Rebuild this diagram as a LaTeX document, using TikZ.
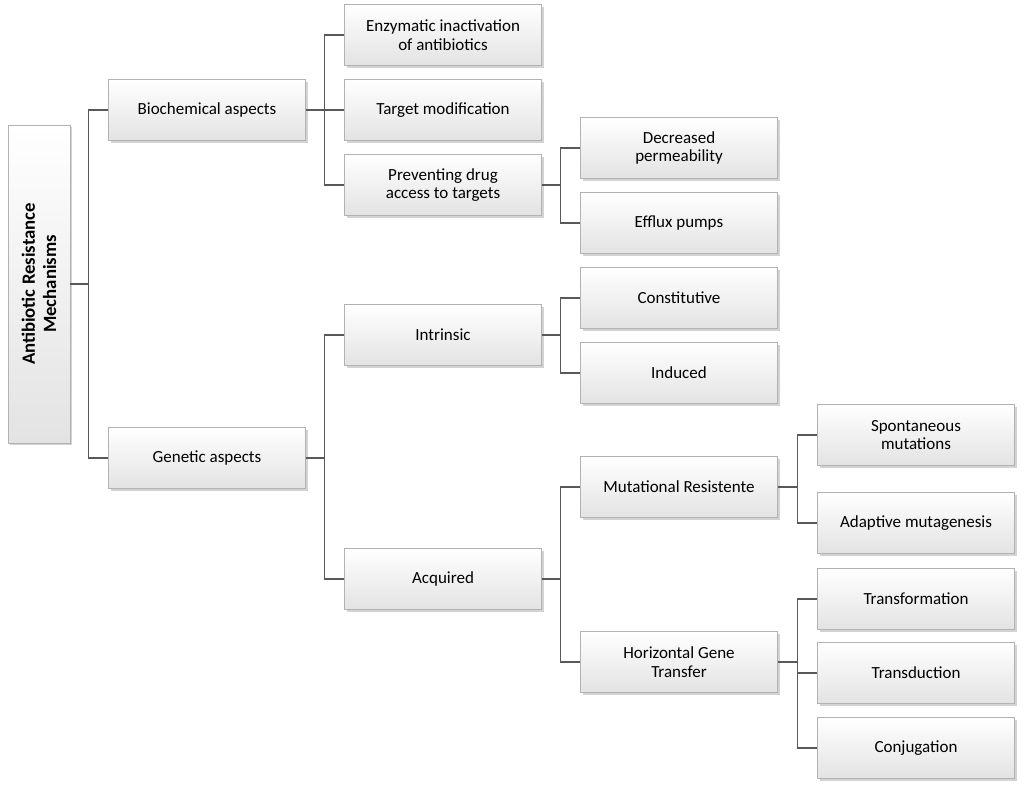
\documentclass[tikz,border=0pt]{standalone}
\usepackage{fontspec}
\setmainfont{Carlito}
\usetikzlibrary{shadows}

\tikzset{
  box/.style={draw=gray!60, line width=0.4pt, top color=white, bottom color=gray!22,
    drop shadow={shadow xshift=2pt, shadow yshift=-2pt, opacity=0.35},
    minimum width=197*0.03cm, minimum height=61*0.03cm, inner sep=2pt,
    align=center, font=\fontsize{14.5}{16}\selectfont},
  link/.style={draw=gray!70!black, line width=0.9pt}
}

\begin{document}
\begin{tikzpicture}[x=0.03cm, y=0.03cm]
  \useasboundingbox (0,0) rectangle (1024,-792);

  % root
  \node[box, rotate=90, minimum width=318*0.03cm, minimum height=62*0.03cm,
        font=\bfseries\fontsize{16}{18}\selectfont] (root) at (39,-284)
        {Antibiotic Resistance\\Mechanisms};

  % second level
  \node[box] (bio) at (207,-110) {Biochemical aspects};
  \node[box] (gen) at (207,-458) {Genetic aspects};

  % third level
  \node[box] (enz)  at (443,-35)  {Enzymatic inactivation\\of antibiotics};
  \node[box] (targ) at (443,-110) {Target modification};
  \node[box] (prev) at (443,-185) {Preventing drug\\access to targets};
  \node[box] (intr) at (443,-335) {Intrinsic};
  \node[box] (acq)  at (443,-579) {Acquired};

  % fourth level
  \node[box] (perm) at (679,-148) {Decreased\\permeability};
  \node[box] (eff)  at (679,-223) {Efflux pumps};
  \node[box] (cons) at (679,-298) {Constitutive};
  \node[box] (ind)  at (679,-373) {Induced};
  \node[box] (mut)  at (679,-487) {Mutational Resistente};
  \node[box] (hgt)  at (679,-662) {Horizontal Gene\\Transfer};

  % fifth level
  \node[box] (spon) at (916,-435) {Spontaneous\\mutations};
  \node[box] (adap) at (916,-523) {Adaptive mutagenesis};
  \node[box] (tfm)  at (916,-599) {Transformation};
  \node[box] (tdn)  at (916,-673) {Transduction};
  \node[box] (conj) at (916,-748) {Conjugation};

  % connectors
  \foreach \a/\b in {root/bio, root/gen}
    \draw[link] (root.south) -- ++(18,0) |- (\b.west);
  \foreach \b in {enz, targ, prev}
    \draw[link] (bio.east) -- ++(19,0) |- (\b.west);
  \foreach \b in {intr, acq}
    \draw[link] (gen.east) -- ++(19,0) |- (\b.west);
  \foreach \b in {perm, eff}
    \draw[link] (prev.east) -- ++(19,0) |- (\b.west);
  \foreach \b in {cons, ind}
    \draw[link] (intr.east) -- ++(19,0) |- (\b.west);
  \foreach \b in {mut, hgt}
    \draw[link] (acq.east) -- ++(19,0) |- (\b.west);
  \foreach \b in {spon, adap}
    \draw[link] (mut.east) -- ++(20,0) |- (\b.west);
  \foreach \b in {tfm, tdn, conj}
    \draw[link] (hgt.east) -- ++(20,0) |- (\b.west);
\end{tikzpicture}
\end{document}
